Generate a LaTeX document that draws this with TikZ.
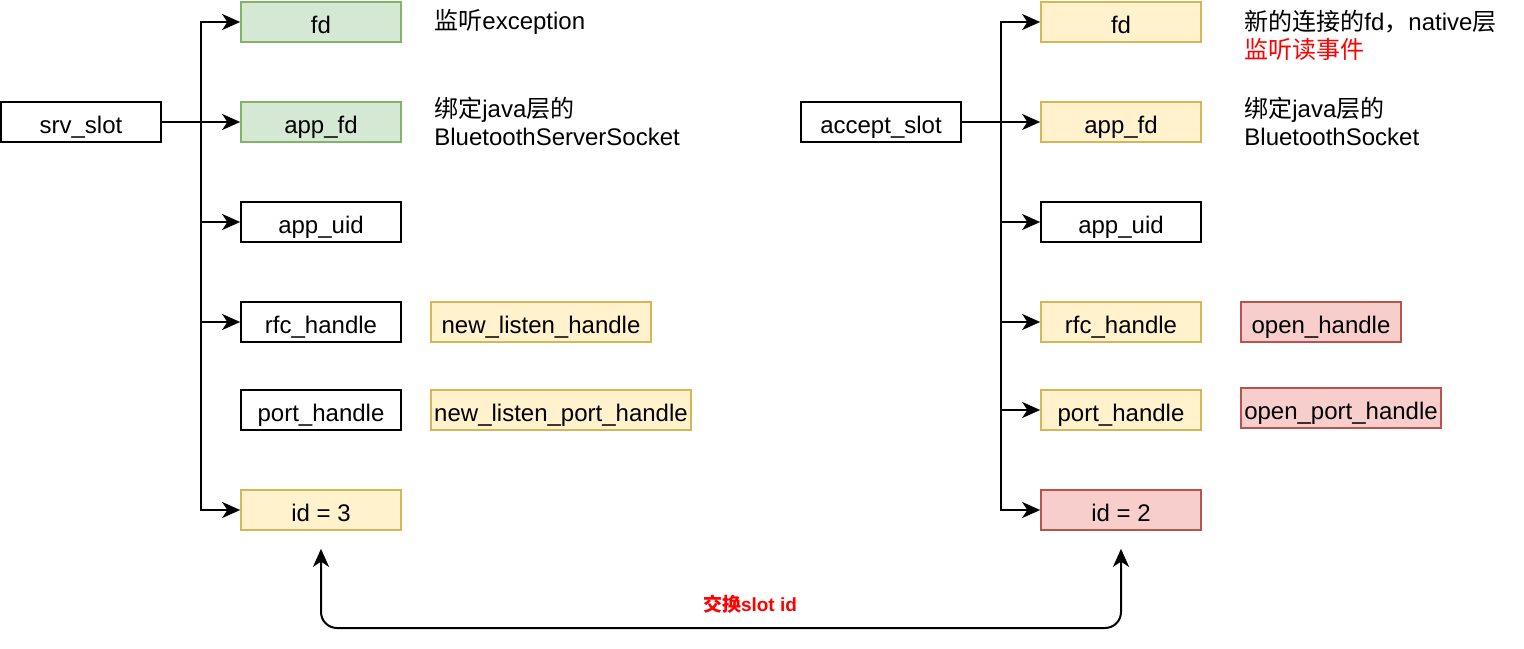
\documentclass[tikz,border=0pt]{standalone}
\usepackage{fontspec}
\setmainfont{Liberation Sans}
\newfontfamily\cjk{Noto Sans CJK SC}
\usepackage{xcolor}
\usetikzlibrary{arrows.meta}
\definecolor{greenfill}{HTML}{D5E8D4}
\definecolor{greenline}{HTML}{82B366}
\definecolor{yellowfill}{HTML}{FFF2CC}
\definecolor{yellowline}{HTML}{D6B656}
\definecolor{redfill}{HTML}{F8CECC}
\definecolor{redline}{HTML}{B85450}
\definecolor{notered}{HTML}{FF0000}
\tikzset{
  field/.style={draw, line width=0.85pt, minimum width=80pt, minimum height=20pt, inner sep=0pt, text height=11pt, text depth=0pt, font=\fontsize{12}{14}\selectfont},
  greenfield/.style={field, draw=greenline, fill=greenfill},
  yellowfield/.style={field, draw=yellowline, fill=yellowfill},
  redfield/.style={field, draw=redline, fill=redfill},
  note/.style={anchor=west, align=left, inner sep=0pt, font=\fontsize{12}{14}\selectfont},
  tip/.tip={Stealth[length=9pt, width=8pt, inset=2.6pt]},
  link/.style={line width=1pt},
  arr/.style={link, -tip},
  swaparr/.style={link, tip-tip, rounded corners=8pt}
}

\begin{document}
\begin{tikzpicture}[x=0.5pt, y=-0.5pt]
\useasboundingbox (0,0) rectangle (1524,648);

\node[field] (srv) at (81,122) {srv\_slot};
\node[greenfield] (lfd) at (321,22) {fd};
\node[greenfield] (lappfd) at (321,122) {app\_fd};
\node[field] (luid) at (321,222) {app\_uid};
\node[field] (lrfc) at (321,322) {rfc\_handle};
\node[field] (lport) at (321,410) {port\_handle};
\node[yellowfield] (lid) at (321,510) {id = 3};
\node[yellowfield, minimum width=110pt] (lnewrfc) at (541,322) {new\_listen\_handle};
\node[yellowfield, minimum width=130pt] (lnewport) at (561,410) {new\_listen\_port\_handle};
\node[note] (lnotefd) at (434,22) {{\cjk 监听}exception};
\node[note] (lnoteapp) at (434,121) {{\cjk 绑定}java{\cjk 层的}\\BluetoothServerSocket};

\coordinate (ltrunk) at (201,122);
\draw[link] (srv.east) -- (ltrunk);
\foreach \n in {lfd,lappfd,luid,lrfc,lid}
  \draw[arr] (ltrunk) |- (\n.west);

\node[field] (acc) at (881,122) {accept\_slot};
\node[yellowfield] (rfd) at (1121,22) {fd};
\node[yellowfield] (rappfd) at (1121,122) {app\_fd};
\node[field] (ruid) at (1121,222) {app\_uid};
\node[yellowfield] (rrfc) at (1121,322) {rfc\_handle};
\node[yellowfield] (rport) at (1121,410) {port\_handle};
\node[redfield] (rid) at (1121,510) {id = 2};
\node[redfield] (ropenrfc) at (1321,322) {open\_handle};
\node[redfield, minimum width=100pt] (ropenport) at (1341,408) {open\_port\_handle};
\node[note] (rnotefd) at (1244,35) {{\cjk 新的连接的}fd{\cjk ，}native{\cjk 层}\\\textcolor{notered}{\cjk 监听读事件}};
\node[note] (rnoteapp) at (1244,121) {{\cjk 绑定}java{\cjk 层的}\\BluetoothSocket};

\coordinate (rtrunk) at (1001,122);
\draw[link] (acc.east) -- (rtrunk);
\foreach \n in {rfd,rappfd,ruid,rrfc,rport,rid}
  \draw[arr] (rtrunk) |- (\n.west);

\coordinate (swap) at (721,628);
\draw[swaparr] ([yshift=-9pt]lid.south) |- (swap) -| ([yshift=-9pt]rid.south);
\node[text=notered, font=\fontsize{9.5}{11}\selectfont\bfseries] (swaplabel) at (750,604) {{\cjk 交换}slot id};

\end{tikzpicture}
\end{document}
